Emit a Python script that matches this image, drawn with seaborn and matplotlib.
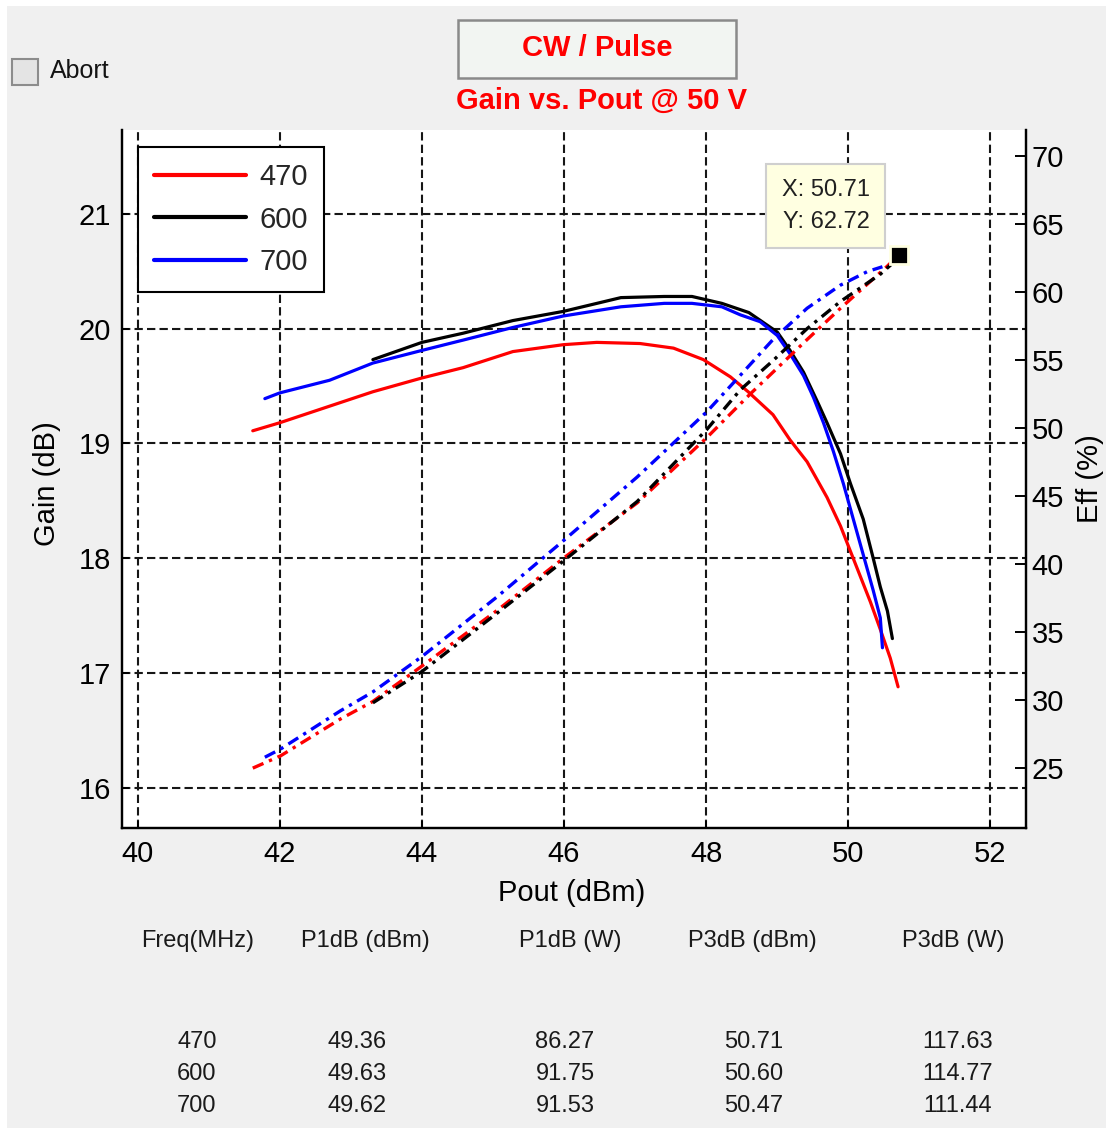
import numpy as np
import pandas as pd
import seaborn as sns
import matplotlib.pyplot as plt
from matplotlib.patches import Rectangle

W, H = 1106, 1128

freqs = ['470', '600', '700']
colors = {'470': 'red', '600': 'black', '700': 'blue'}

# gain vs pout (solid, left axis)
pout_gain_470 = [41.62, 42.00, 43.31, 44.00, 44.58, 45.28, 45.99, 46.46, 47.07, 47.54, 47.96, 48.34,
                 48.59, 48.94, 49.18, 49.42, 49.70, 49.89, 50.03, 50.17, 50.31, 50.45, 50.59, 50.70]
gain_470 = [19.11, 19.18, 19.45, 19.57, 19.66, 19.80, 19.86, 19.88, 19.87, 19.83, 19.73, 19.58,
            19.45, 19.25, 19.03, 18.84, 18.53, 18.28, 18.06, 17.84, 17.62, 17.38, 17.13, 16.88]

pout_gain_600 = [43.31, 44.00, 44.58, 45.28, 45.99, 46.80, 47.41, 47.80, 48.22, 48.60, 49.00, 49.18,
                 49.37, 49.56, 49.70, 49.89, 50.03, 50.21, 50.35, 50.45, 50.55, 50.62]
gain_600 = [19.73, 19.88, 19.96, 20.07, 20.15, 20.27, 20.28, 20.28, 20.22, 20.14, 19.97, 19.81,
            19.62, 19.37, 19.18, 18.91, 18.65, 18.34, 18.00, 17.75, 17.54, 17.30]

pout_gain_700 = [41.79, 42.00, 42.70, 43.31, 44.00, 44.58, 45.28, 45.99, 46.80, 47.41, 47.80, 48.22,
                 48.48, 48.76, 49.00, 49.18, 49.37, 49.51, 49.65, 49.79, 49.93, 50.07, 50.21, 50.35,
                 50.45, 50.48]
gain_700 = [19.39, 19.44, 19.55, 19.70, 19.81, 19.90, 20.01, 20.11, 20.19, 20.22, 20.22, 20.19,
            20.12, 20.06, 19.94, 19.78, 19.59, 19.40, 19.18, 18.93, 18.65, 18.34, 18.03, 17.72,
            17.48, 17.22]

# efficiency vs pout (dash-dot, right axis)
pout_eff_470 = [41.62, 42.01, 42.85, 43.31, 44.00, 45.06, 46.01, 47.03, 48.01, 48.62, 48.94, 49.42,
                49.89, 50.55, 50.71]
eff_470 = [25.0, 25.9, 28.6, 29.9, 32.5, 36.6, 40.5, 44.5, 49.3, 52.5, 54.1, 56.5, 58.8, 61.9, 62.72]

pout_eff_600 = [43.31, 44.00, 45.06, 46.01, 47.03, 48.01, 48.48, 48.94, 49.42, 49.89, 50.45, 50.60]
eff_600 = [29.8, 32.1, 36.4, 40.3, 44.6, 49.9, 52.8, 54.95, 57.3, 59.3, 61.3, 62.0]

pout_eff_700 = [41.79, 42.01, 42.85, 43.31, 44.00, 45.06, 46.01, 47.03, 48.01, 48.38, 48.94, 49.42,
                49.89, 50.27, 50.48]
eff_700 = [25.8, 26.4, 29.2, 30.6, 33.2, 37.6, 41.8, 46.4, 51.2, 53.3, 56.5, 58.8, 60.5, 61.5, 61.85]

# summary table
table_header = ['Freq(MHz)', 'P1dB (dBm)', 'P1dB (W)', 'P3dB (dBm)', 'P3dB (W)']
p1db_dbm = ['49.36', '49.63', '49.62']
p1db_w = ['86.27', '91.75', '91.53']
p3db_dbm = ['50.71', '50.60', '50.47']
p3db_w = ['117.63', '114.77', '111.44']

gain_df = pd.concat([
    pd.DataFrame({'pout': pout_gain_470, 'val': gain_470, 'freq': '470'}),
    pd.DataFrame({'pout': pout_gain_600, 'val': gain_600, 'freq': '600'}),
    pd.DataFrame({'pout': pout_gain_700, 'val': gain_700, 'freq': '700'}),
])
eff_df = pd.concat([
    pd.DataFrame({'pout': pout_eff_470, 'val': eff_470, 'freq': '470'}),
    pd.DataFrame({'pout': pout_eff_600, 'val': eff_600, 'freq': '600'}),
    pd.DataFrame({'pout': pout_eff_700, 'val': eff_700, 'freq': '700'}),
])

sns.set_style('white')
plt.rcParams['font.family'] = ['Liberation Sans', 'DejaVu Sans']
plt.rcParams['axes.unicode_minus'] = False

bg = '#F0F0F0'
fig = plt.figure(figsize=(W / 100, H / 100), dpi=100, facecolor='white')


def fx(px):
    return px / W


def fy(py):
    return 1 - py / H


# gray panel
fig.patches.append(Rectangle((fx(7), 0), 1 - fx(7), fy(6), transform=fig.transFigure,
                             facecolor=bg, edgecolor='none', zorder=-10))

ax = fig.add_axes([fx(122), fy(828), fx(1026) - fx(122), fy(130) - fy(828)])
ax.set_facecolor('white')
ax2 = ax.twinx()

for f in freqs:
    sub = gain_df[gain_df.freq == f]
    sns.lineplot(x=sub.pout.values, y=sub.val.values, color=colors[f], lw=2.3,
                 sort=False, estimator=None, ax=ax, label=f, legend=False)
    sub = eff_df[eff_df.freq == f]
    sns.lineplot(x=sub.pout.values, y=sub.val.values, color=colors[f], lw=2.4,
                 linestyle=(0, (3.5, 1.8, 1, 1.8)), sort=False, estimator=None, ax=ax2,
                 legend=False)

ax.set_xlim(39.78, 52.5)
ax.set_ylim(15.65, 21.73)
ax2.set_ylim(20.6, 71.9)
ax.set_xticks(np.arange(40, 53, 2))
ax.set_yticks(np.arange(16, 22, 1))
ax2.set_yticks(np.arange(25, 71, 5))

ax.grid(True, color='#161616', lw=1.5, ls=(0, (4, 2)))
ax2.grid(False)

for a in (ax, ax2):
    a.spines['top'].set_visible(False)
    for s in ('left', 'right', 'bottom'):
        a.spines[s].set_color('black')
        a.spines[s].set_linewidth(1.6)

ax.tick_params(axis='both', direction='in', length=5, width=1.4, labelsize=21,
               colors='black', left=True, bottom=True)
ax.tick_params(axis='y', pad=8)
ax.tick_params(axis='x', pad=9)
ax2.tick_params(axis='y', direction='in', length=8, width=1.4, labelsize=21, pad=4,
                right=True, colors='black')

ax.set_xlabel('Pout (dBm)', fontsize=21, color='black')
ax.set_ylabel('Gain (dB)', fontsize=21, color='black')
ax2.set_ylabel('Eff (%)', fontsize=21, color='black')
ax.xaxis.set_label_coords(0.497, -0.073)
ax.yaxis.set_label_coords(-0.067, 0.494)
ax2.yaxis.set_label_coords(1.055, 0.501)

# legend (gain lines)
handles = ax.get_lines()[:3]
leg = ax2.legend(handles, freqs, loc='upper left', bbox_to_anchor=(0.0177, 0.9756),
                 borderaxespad=0, frameon=True, fancybox=False, edgecolor='black',
                 framealpha=1, fontsize=21, handlelength=3.15, labelspacing=0.5,
                 borderpad=0.55, handletextpad=0.45)
leg.get_frame().set_linewidth(1.5)
for ln in leg.get_lines():
    ln.set_linewidth(3)

# data tip at end of 470 MHz efficiency curve
tip_x, tip_y = pout_eff_470[-1], eff_470[-1]
ax2.plot([tip_x], [tip_y], 's', ms=13, mfc='black', mec='#FFFFE1', mew=2, zorder=6)
ax2.annotate(f'X: {tip_x:.2f}\nY: {tip_y:.2f}', xy=(tip_x, tip_y), xytext=(-21, 16),
             textcoords='offset points', ha='right', va='bottom', fontsize=17,
             color='#202020', linespacing=1.55, zorder=7,
             bbox=dict(boxstyle='square,pad=0.65', fc='#FFFFE1', ec='#CFCFCF', lw=1.5))

# header widgets
fig.patches.append(Rectangle((fx(12), fy(85)), fx(38) - fx(12), fy(59) - fy(85),
                             transform=fig.transFigure, facecolor='#E4E4E4',
                             edgecolor='#8C8C8C', lw=1.5))
fig.text(fx(50), fy(71), 'Abort', fontsize=18, color='#141414', ha='left', va='center')

fig.patches.append(Rectangle((fx(458), fy(78)), fx(736) - fx(458), fy(20) - fy(78),
                             transform=fig.transFigure, facecolor='#F2F5F2',
                             edgecolor='#8A8A8A', lw=1.8))
fig.text(fx(597), fy(48), 'CW / Pulse', fontsize=21, fontweight='bold', color='red',
         ha='center', va='center')
fig.text(fx(602), fy(101), 'Gain vs. Pout @ 50 V', fontsize=21, fontweight='bold',
         color='red', ha='center', va='center')

# summary table
col_x = [198, 365, 570, 752, 953]
val_x = [197, 357, 565, 754, 958]
for cx, txt in zip(col_x, table_header):
    fig.text(fx(cx), fy(941), txt, fontsize=17, color='#1a1a1a', ha='center', va='center')
row_y = [1042, 1074, 1106]
for i, ry in enumerate(row_y):
    row = [freqs[i], p1db_dbm[i], p1db_w[i], p3db_dbm[i], p3db_w[i]]
    for cx, txt in zip(val_x, row):
        fig.text(fx(cx), fy(ry), txt, fontsize=17, color='#1a1a1a', ha='center', va='center')

fig.savefig('out.png', dpi=100, facecolor=fig.get_facecolor())
